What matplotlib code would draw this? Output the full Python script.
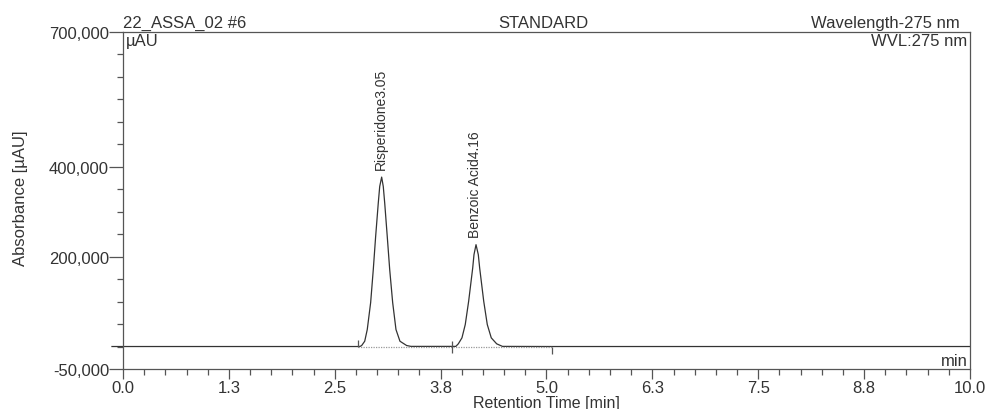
import matplotlib
matplotlib.use("Agg")
import matplotlib.pyplot as plt
from matplotlib.ticker import FuncFormatter
import numpy as np

plt.rcParams['font.family'] = ['Liberation Sans', 'DejaVu Sans']

# chromatogram trace (time in min, absorbance in uAU)
trace_t = [-0.13, 2.77, 2.80, 2.818, 2.854, 2.884, 2.924, 2.955, 2.983, 3.014, 3.031,
           3.054, 3.073, 3.090, 3.120, 3.149, 3.184, 3.223, 3.270, 3.349, 3.40,
           3.93, 3.959, 4.002, 4.041, 4.081, 4.129, 4.144, 4.168, 4.195, 4.211,
           4.259, 4.301, 4.348, 4.412, 4.48, 5.065, 10.0]
trace_a = [0, 0, 300, 2200, 11800, 37800, 97800, 171100, 245000, 319300, 356200,
           377100, 356200, 319300, 245000, 171100, 97800, 37800, 11800, 2200, 300,
           300, 6000, 19300, 48900, 100700, 174900, 204400, 226700, 204400, 174900,
           100700, 48900, 19300, 6000, 300, 0, 0]

# peak names and retention times
peak_names = ["Risperidone", "Benzoic Acid"]
peak_rt = [3.05, 4.16]
peak_height = [377100, 226700]

# integration event marks (time, low, high)
event_t = [2.77, 3.885, 5.065]
event_lo = [0, -15000, -16000]
event_hi = [15500, 13000, 0]

y_major = [-50000, 200000, 400000, 700000]
y_minor = list(range(-50000, 700001, 50000))
x_major = [0.0, 1.25, 2.5, 3.75, 5.0, 6.25, 7.5, 8.75, 10.0]
x_labels = ["0.0", "1.3", "2.5", "3.8", "5.0", "6.3", "7.5", "8.8", "10.0"]
x_minor = list(np.arange(0, 10.01, 0.25))

ink = "#333333"
fig = plt.figure(figsize=(9.91, 4.10), dpi=100)
ax = fig.add_axes([0.1241, 0.0976, 0.8547, 0.8219])

t = np.array(trace_t)
a = np.array(trace_a, dtype=float)
inside = (t > event_t[0]) & (t < event_t[-1]) & (a == 0)
ax.plot(t, np.ma.masked_where(inside, a), color=ink, lw=0.9, clip_on=False)
ax.plot([event_t[0], event_t[-1]], [0, 0], color="#999999", lw=0.9, ls=(0, (1, 1)))
ax.vlines(event_t, event_lo, event_hi, color="#555555", lw=0.9)

for name, rt, h in zip(peak_names, peak_rt, peak_height):
    ax.text(rt, h + 17000, f"{name}{rt:.2f}", rotation=90, ha="center", va="bottom",
            fontsize=10, color=ink)

ax.set_xlim(0, 10)
ax.set_ylim(-50000, 700000)
ax.set_xticks(x_major)
ax.set_xticklabels(x_labels)
ax.set_xticks(x_minor, minor=True)
ax.set_yticks(y_major)
ax.set_yticks(y_minor, minor=True)
ax.yaxis.set_major_formatter(FuncFormatter(lambda v, p: f"{v:,.0f}"))

ax.tick_params(axis="both", which="both", direction="out", colors="#555555",
               labelcolor=ink, labelsize=12, width=0.9)
ax.tick_params(axis="y", which="major", length=10, pad=0)
ax.tick_params(axis="y", which="minor", length=4)
ax.tick_params(axis="x", which="major", length=7, pad=1)
ax.tick_params(axis="x", which="minor", length=4)
for s in ax.spines.values():
    s.set_color("#555555")
    s.set_linewidth(0.9)

ax.set_ylabel("Absorbance [µAU]", fontsize=12, color=ink)
ax.yaxis.set_label_coords(-0.112, 0.51)
ax.set_xlabel("Retention Time [min]", fontsize=11.5, color=ink)
ax.xaxis.set_label_coords(0.5, -0.076)

ax.text(0.0, 1.005, "22_ASSA_02 #6", transform=ax.transAxes, ha="left", va="bottom",
        fontsize=12, color=ink)
ax.text(0.496, 1.005, "STANDARD", transform=ax.transAxes, ha="center", va="bottom",
        fontsize=12, color=ink)
ax.text(0.988, 1.005, "Wavelength-275 nm", transform=ax.transAxes, ha="right", va="bottom",
        fontsize=12, color=ink)
ax.text(0.004, 0.998, "µAU", transform=ax.transAxes, ha="left", va="top",
        fontsize=12, color=ink)
ax.text(0.997, 0.998, "WVL:275 nm", transform=ax.transAxes, ha="right", va="top",
        fontsize=12, color=ink)
ax.text(0.997, 0.003, "min", transform=ax.transAxes, ha="right", va="bottom",
        fontsize=12, color=ink)

fig.savefig("out.png", dpi=100)
